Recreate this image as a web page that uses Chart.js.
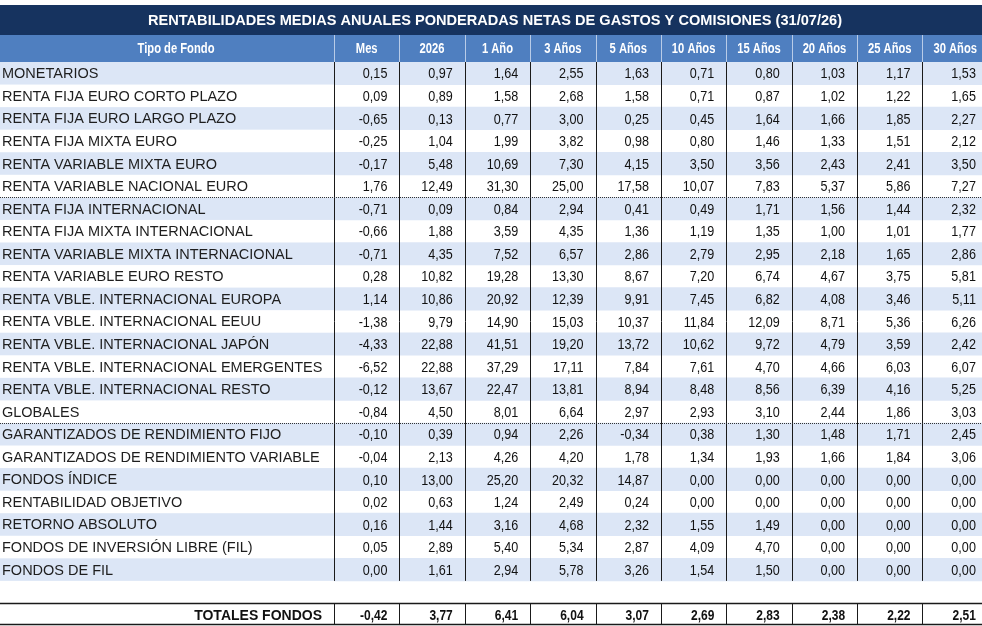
<!DOCTYPE html>
<html>
<head>
<meta charset="utf-8">
<title>Rentabilidades medias anuales</title>
<script src="https://cdn.jsdelivr.net/npm/chart.js@4.4.1/dist/chart.umd.min.js"></script>
<style>
  html, body { margin: 0; padding: 0; background: #fff; }
  #wrap { width: 982px; height: 626px; }
</style>
</head>
<body>
<div id="wrap"><canvas id="tabla" width="982" height="626"></canvas></div>
<script>
// Textos
const titulo = 'RENTABILIDADES MEDIAS ANUALES PONDERADAS NETAS DE GASTOS Y COMISIONES (31/07/26)';
const cabeceraFondo = 'Tipo de Fondo';
const columnas = ['Mes', '2026', '1 Año', '3 Años', '5 Años', '10 Años', '15 Años', '20 Años', '25 Años', '30 Años'];
const etiquetaTotal = 'TOTALES FONDOS';

const fondos = [
    'MONETARIOS',
    'RENTA FIJA EURO CORTO PLAZO',
    'RENTA FIJA EURO LARGO PLAZO',
    'RENTA FIJA MIXTA EURO',
    'RENTA VARIABLE MIXTA EURO',
    'RENTA VARIABLE NACIONAL EURO',
    'RENTA FIJA INTERNACIONAL',
    'RENTA FIJA MIXTA INTERNACIONAL',
    'RENTA VARIABLE MIXTA INTERNACIONAL',
    'RENTA VARIABLE EURO RESTO',
    'RENTA VBLE. INTERNACIONAL EUROPA',
    'RENTA VBLE. INTERNACIONAL EEUU',
    'RENTA VBLE. INTERNACIONAL JAPÓN',
    'RENTA VBLE. INTERNACIONAL EMERGENTES',
    'RENTA VBLE. INTERNACIONAL RESTO',
    'GLOBALES',
    'GARANTIZADOS DE RENDIMIENTO FIJO',
    'GARANTIZADOS DE RENDIMIENTO VARIABLE',
    'FONDOS ÍNDICE',
    'RENTABILIDAD OBJETIVO',
    'RETORNO ABSOLUTO',
    'FONDOS DE INVERSIÓN LIBRE (FIL)',
    'FONDOS DE FIL'
];

// Series (una por columna)
const mes      = [0.15, 0.09, -0.65, -0.25, -0.17, 1.76, -0.71, -0.66, -0.71, 0.28, 1.14, -1.38, -4.33, -6.52, -0.12, -0.84, -0.10, -0.04, 0.10, 0.02, 0.16, 0.05, 0.00];
const anio2026 = [0.97, 0.89, 0.13, 1.04, 5.48, 12.49, 0.09, 1.88, 4.35, 10.82, 10.86, 9.79, 22.88, 22.88, 13.67, 4.50, 0.39, 2.13, 13.00, 0.63, 1.44, 2.89, 1.61];
const anios1   = [1.64, 1.58, 0.77, 1.99, 10.69, 31.30, 0.84, 3.59, 7.52, 19.28, 20.92, 14.90, 41.51, 37.29, 22.47, 8.01, 0.94, 4.26, 25.20, 1.24, 3.16, 5.40, 2.94];
const anios3   = [2.55, 2.68, 3.00, 3.82, 7.30, 25.00, 2.94, 4.35, 6.57, 13.30, 12.39, 15.03, 19.20, 17.11, 13.81, 6.64, 2.26, 4.20, 20.32, 2.49, 4.68, 5.34, 5.78];
const anios5   = [1.63, 1.58, 0.25, 0.98, 4.15, 17.58, 0.41, 1.36, 2.86, 8.67, 9.91, 10.37, 13.72, 7.84, 8.94, 2.97, -0.34, 1.78, 14.87, 0.24, 2.32, 2.87, 3.26];
const anios10  = [0.71, 0.71, 0.45, 0.80, 3.50, 10.07, 0.49, 1.19, 2.79, 7.20, 7.45, 11.84, 10.62, 7.61, 8.48, 2.93, 0.38, 1.34, 0.00, 0.00, 1.55, 4.09, 1.54];
const anios15  = [0.80, 0.87, 1.64, 1.46, 3.56, 7.83, 1.71, 1.35, 2.95, 6.74, 6.82, 12.09, 9.72, 4.70, 8.56, 3.10, 1.30, 1.93, 0.00, 0.00, 1.49, 4.70, 1.50];
const anios20  = [1.03, 1.02, 1.66, 1.33, 2.43, 5.37, 1.56, 1.00, 2.18, 4.67, 4.08, 8.71, 4.79, 4.66, 6.39, 2.44, 1.48, 1.66, 0.00, 0.00, 0.00, 0.00, 0.00];
const anios25  = [1.17, 1.22, 1.85, 1.51, 2.41, 5.86, 1.44, 1.01, 1.65, 3.75, 3.46, 5.36, 3.59, 6.03, 4.16, 1.86, 1.71, 1.84, 0.00, 0.00, 0.00, 0.00, 0.00];
const anios30  = [1.53, 1.65, 2.27, 2.12, 3.50, 7.27, 2.32, 1.77, 2.86, 5.81, 5.11, 6.26, 2.42, 6.07, 5.25, 3.03, 2.45, 3.06, 0.00, 0.00, 0.00, 0.00, 0.00];
const totales  = [-0.42, 3.77, 6.41, 6.04, 3.07, 2.69, 2.83, 2.38, 2.22, 2.51];

// Filas tras las que va una línea punteada
const separadores = [5, 15];

const series = [mes, anio2026, anios1, anios3, anios5, anios10, anios15, anios20, anios25, anios30];

// Estilos
const colorTitulo = '#16335f';
const colorCabecera = '#4f7fc0';
const colorFranja = '#dce6f6';
const colorLineaCab = '#b9cce8';
const fuente = '"Liberation Sans", Arial, sans-serif';
const estrecho = 0.84;   // factor horizontal para imitar Arial Narrow
const margen = 12;       // sangría derecha de los números

// filas del eje: fondos + hueco + total
const filas = fondos.concat(['', etiquetaTotal]);
const franjas = filas.map((f, i) => (i < fondos.length && i % 2 === 0) ? [-0.5, columnas.length - 0.5] : null);

function fmt(v) {
    return v.toFixed(2).replace('.', ',');
}

function texto(ctx, str, x, y, align, sx) {
    ctx.save();
    ctx.translate(x, y);
    ctx.scale(sx, 1);
    ctx.textAlign = align;
    ctx.fillText(str, 0, 0);
    ctx.restore();
}

function linea(ctx, x1, y1, x2, y2) {
    ctx.beginPath();
    ctx.moveTo(x1, y1);
    ctx.lineTo(x2, y2);
    ctx.stroke();
}

const pluginTabla = {
    id: 'tabla',
    beforeDraw(chart) {
        const { ctx, chartArea } = chart;
        const w = chart.width;
        ctx.save();
        ctx.fillStyle = '#fff';
        ctx.fillRect(0, 0, w, chart.height);
        ctx.fillStyle = colorTitulo;
        ctx.fillRect(0, 5, w, 30);
        ctx.fillStyle = colorCabecera;
        ctx.fillRect(0, 35, w, chartArea.top - 35);

        // prolongar las franjas bajo la columna de nombres
        const meta = chart.getDatasetMeta(0);
        ctx.fillStyle = colorFranja;
        meta.data.forEach((bar, i) => {
            if (!franjas[i]) return;
            const p = bar.getProps(['y', 'height'], true);
            ctx.fillRect(0, p.y - p.height / 2, chartArea.left, p.height);
        });
        ctx.restore();
    },
    afterDraw(chart) {
        const { ctx, chartArea, scales: { x, y } } = chart;
        const w = chart.width;
        const alto = y.getPixelForValue(1) - y.getPixelForValue(0);
        const borde = c => Math.round(x.getPixelForValue(c - 0.5)) + 0.5;
        ctx.save();
        ctx.textBaseline = 'middle';

        // título
        ctx.fillStyle = '#fff';
        ctx.font = 'bold 15px ' + fuente;
        const anchoTit = ctx.measureText(titulo).width;
        texto(ctx, titulo, w / 2 + 4, 20.5, 'center', 694 / anchoTit);

        // cabecera
        const yCab = (35 + chartArea.top) / 2 + 1;
        ctx.font = 'bold 14px ' + fuente;
        texto(ctx, cabeceraFondo, 176, yCab, 'center', 0.8);
        columnas.forEach((c, i) => texto(ctx, c, x.getPixelForValue(i), yCab, 'center', 0.8));
        ctx.strokeStyle = colorLineaCab;
        ctx.lineWidth = 1;
        for (let c = 0; c < columnas.length; c++) {
            linea(ctx, borde(c), 35, borde(c), chartArea.top);
        }

        // valores
        ctx.fillStyle = '#111';
        ctx.font = '15px ' + fuente;
        series.forEach((serie, c) => {
            const xd = x.getPixelForValue(c + 0.5) - margen;
            serie.forEach((v, r) => texto(ctx, fmt(v), xd, y.getPixelForValue(r) + 1, 'right', estrecho));
        });

        // líneas verticales del cuerpo
        const finCuerpo = y.getPixelForValue(fondos.length - 1) + alto / 2;
        ctx.strokeStyle = '#1a1a1a';
        for (let c = 0; c < columnas.length; c++) {
            linea(ctx, borde(c), chartArea.top, borde(c), finCuerpo);
        }

        // separadores punteados
        ctx.setLineDash([1, 1]);
        ctx.strokeStyle = '#333';
        separadores.forEach(r => {
            const yy = Math.round(y.getPixelForValue(r) + alto / 2) + 0.5;
            linea(ctx, 0, yy, w, yy);
        });
        ctx.setLineDash([]);

        // fila de totales
        const rt = filas.length - 1;
        const yt = y.getPixelForValue(rt);
        const arriba = Math.round(yt - alto / 2) + 0.5;
        const abajo = Math.min(Math.round(yt + alto / 2) - 0.5, chart.height - 1.5);
        ctx.strokeStyle = '#1a1a1a';
        ctx.lineWidth = 1.5;
        linea(ctx, 0, arriba, w, arriba);
        linea(ctx, 0, abajo, w, abajo);
        ctx.lineWidth = 1;
        for (let c = 0; c < columnas.length; c++) {
            linea(ctx, borde(c), arriba, borde(c), abajo);
        }
        ctx.fillStyle = '#111';
        ctx.font = 'bold 14px ' + fuente;
        texto(ctx, etiquetaTotal, chartArea.left - 12, yt + 1, 'right', 1);
        ctx.font = 'bold 15px ' + fuente;
        totales.forEach((v, c) => texto(ctx, fmt(v), x.getPixelForValue(c + 0.5) - margen, yt + 1, 'right', 0.8));

        ctx.restore();
    }
};

const chart = new Chart(document.getElementById('tabla'), {
    type: 'bar',
    data: {
        labels: filas,
        datasets: [{
            data: franjas,
            backgroundColor: colorFranja,
            borderWidth: 0,
            borderSkipped: false,
            barPercentage: 1,
            categoryPercentage: 1
        }]
    },
    options: {
        indexAxis: 'y',
        responsive: false,
        animation: false,
        events: [],
        layout: { padding: { top: 62, left: 2, right: 0, bottom: 0 } },
        plugins: {
            legend: { display: false },
            tooltip: { enabled: false },
            title: { display: false }
        },
        scales: {
            x: {
                type: 'linear',
                display: false,
                min: -0.5,
                max: 9.41
            },
            y: {
                type: 'category',
                offset: true,
                grid: { display: false, drawTicks: false },
                border: { display: false },
                afterFit(scale) {
                    scale.width = 332;
                    scale.paddingTop = 0;
                    scale.paddingBottom = 0;
                },
                ticks: {
                    autoSkip: false,
                    crossAlign: 'far',
                    labelOffset: 1,
                    color: '#1e1e1e',
                    font: { family: fuente, size: 14.5 },
                    callback: (v, i) => i < fondos.length ? fondos[i] : ''
                }
            }
        }
    },
    plugins: [pluginTabla]
});
</script>
</body>
</html>
